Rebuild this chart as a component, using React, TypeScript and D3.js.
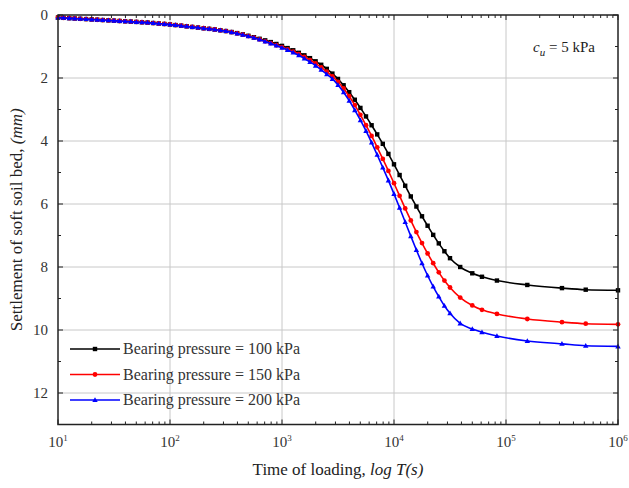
import React from "react";
import * as d3 from "d3";

const times = [10, 11.2, 12.6, 14.1, 15.8, 17.8, 20, 22.4, 25.1, 28.2, 31.6, 35.5, 39.8, 44.7, 50.1, 56.2, 63.1, 70.8, 79.4, 89.1,
  100, 112, 126, 141, 158, 178, 200, 224, 251, 282, 316, 355, 398, 447, 501, 562, 631, 708, 794, 891,
  1000, 1122, 1259, 1413, 1585, 1778, 1995, 2239, 2512, 2818, 3162, 3548, 3981, 4467, 5012, 5623, 6310, 7079, 7943, 8913,
  10000, 11220, 12589, 14125, 15849, 17783, 19953, 22387, 25119, 28184, 31623,
  39000, 50000, 61000, 83000, 155000, 316000, 515000, 1000000];

const early = [0.08, 0.09, 0.10, 0.11, 0.12, 0.13, 0.14, 0.15, 0.16, 0.17, 0.18, 0.19, 0.20, 0.21, 0.22, 0.23, 0.24, 0.255, 0.27, 0.285,
  0.30, 0.32, 0.34, 0.36, 0.38, 0.40, 0.42, 0.44, 0.46, 0.485, 0.51];

const black100 = [...early,
  0.54, 0.575, 0.615, 0.66, 0.705, 0.755, 0.805, 0.86, 0.92, 0.98,
  1.05, 1.12, 1.20, 1.28, 1.37, 1.47, 1.58, 1.71, 1.86, 2.03,
  2.23, 2.45, 2.69, 2.95, 3.22, 3.50, 3.79, 4.09, 4.41, 4.74,
  5.08, 5.42, 5.76, 6.08, 6.39, 6.69, 6.98, 7.25, 7.50, 7.72,
  8.00, 8.20, 8.31, 8.43, 8.57, 8.67, 8.72, 8.74];

const red150 = [...early,
  0.545, 0.585, 0.625, 0.67, 0.72, 0.775, 0.835, 0.895, 0.96, 1.02,
  1.09, 1.16, 1.24, 1.33, 1.43, 1.54, 1.66, 1.80, 1.95, 2.12,
  2.33, 2.58, 2.86, 3.17, 3.50, 3.84, 4.20, 4.57, 4.95, 5.34,
  5.74, 6.14, 6.52, 6.89, 7.24, 7.57, 7.88, 8.17, 8.43, 8.65,
  8.97, 9.22, 9.36, 9.49, 9.65, 9.75, 9.80, 9.82];

const blue200 = [...early,
  0.55, 0.59, 0.63, 0.675, 0.725, 0.78, 0.84, 0.905, 0.97, 1.04,
  1.11, 1.19, 1.28, 1.38, 1.49, 1.61, 1.74, 1.88, 2.03, 2.22,
  2.45, 2.72, 3.02, 3.34, 3.68, 4.05, 4.44, 4.84, 5.25, 5.68,
  6.12, 6.57, 7.02, 7.46, 7.88, 8.27, 8.62, 8.94, 9.23, 9.47,
  9.79, 9.97, 10.07, 10.19, 10.35, 10.44, 10.50, 10.52];

const seriesNames = ["Bearing pressure = 100 kPa", "Bearing pressure = 150 kPa", "Bearing pressure = 200 kPa"];
const seriesValues = [black100, red150, blue200];
const seriesColors = ["#000000", "#ff0000", "#0000ff"];
const seriesMarkers = ["square", "circle", "triangle"];

const xTickExps = [1, 2, 3, 4, 5, 6];
const yTicks = [0, 2, 4, 6, 8, 10, 12];
const yMinor = [1, 3, 5, 7, 9, 11];

const W = 629, H = 488;
const L = 58, R = 618, T = 15, B = 424.5;
const FONT = "'Liberation Serif', 'Times New Roman', serif";

function Marker({ type, x, y, color }: { type: string; x: number; y: number; color: string }) {
  if (type === "square") return <rect x={x - 2.2} y={y - 2.2} width={4.4} height={4.4} fill={color} />;
  if (type === "circle") return <circle cx={x} cy={y} r={2.4} fill={color} />;
  return <path d={`M${x},${y - 2.8}L${x + 2.7},${y + 2}L${x - 2.7},${y + 2}Z`} fill={color} />;
}

export default function App() {
  const x = d3.scaleLog().domain([10, 1e6]).range([L, R]);
  const y = d3.scaleLinear().domain([0, 13]).range([T, B]);
  const line = d3.line<number>().x((_, i) => x(times[i])).y((v) => y(v)).curve(d3.curveMonotoneX);

  const minorX: number[] = [];
  for (let e = 1; e < 6; e++) for (let m = 2; m <= 9; m++) minorX.push(m * Math.pow(10, e));

  return (
    <svg width={W} height={H} style={{ position: "absolute", left: 0, top: 0, background: "#fff" }} fontFamily={FONT}>
      {xTickExps.slice(1, -1).map((e) => (
        <line key={"gx" + e} x1={x(Math.pow(10, e))} x2={x(Math.pow(10, e))} y1={T} y2={B} stroke="#c8c8c8" strokeWidth={1} />
      ))}
      {yTicks.slice(1).map((v) => (
        <line key={"gy" + v} x1={L} x2={R} y1={y(v)} y2={y(v)} stroke="#c8c8c8" strokeWidth={1} />
      ))}
      {seriesValues.map((vals, si) => (
        <g key={"s" + si}>
          <path d={line(vals) || ""} fill="none" stroke={seriesColors[si]} strokeWidth={1.6} />
          {vals.map((v, i) => (
            <Marker key={i} type={seriesMarkers[si]} x={x(times[i])} y={y(v)} color={seriesColors[si]} />
          ))}
        </g>
      ))}
      <rect x={L} y={T} width={R - L} height={B - T} fill="none" stroke="#222" strokeWidth={1.5} />
      {xTickExps.map((e) => {
        const px = x(Math.pow(10, e));
        return (
          <g key={"xt" + e}>
            <line x1={px} x2={px} y1={B} y2={B - 5} stroke="#222" />
            <line x1={px} x2={px} y1={T} y2={T + 5} stroke="#222" />
            <text x={px} y={B + 22} fontSize={15} textAnchor="middle" fill="#333">
              10<tspan dy={-6} fontSize={9}>{e}</tspan>
            </text>
          </g>
        );
      })}
      {minorX.map((v) => (
        <g key={"mx" + v}>
          <line x1={x(v)} x2={x(v)} y1={B} y2={B - 3} stroke="#222" />
          <line x1={x(v)} x2={x(v)} y1={T} y2={T + 3} stroke="#222" />
        </g>
      ))}
      {yTicks.map((v) => (
        <g key={"yt" + v}>
          <line x1={L} x2={L + 5} y1={y(v)} y2={y(v)} stroke="#222" />
          <line x1={R} x2={R - 5} y1={y(v)} y2={y(v)} stroke="#222" />
          <text x={L - 10} y={y(v) + 5} fontSize={15} textAnchor="end" fill="#333">{v}</text>
        </g>
      ))}
      {yMinor.map((v) => (
        <g key={"ym" + v}>
          <line x1={L} x2={L + 3} y1={y(v)} y2={y(v)} stroke="#222" />
          <line x1={R} x2={R - 3} y1={y(v)} y2={y(v)} stroke="#222" />
        </g>
      ))}
      <text x={(L + R) / 2} y={475} fontSize={17} textAnchor="middle" fill="#222">
        Time of loading, <tspan fontStyle="italic">log T(s)</tspan>
      </text>
      <text transform={`translate(22,${(T + B) / 2}) rotate(-90)`} fontSize={17} textAnchor="middle" fill="#222">
        Settlement of soft soil bed, <tspan fontStyle="italic">(mm)</tspan>
      </text>
      <text x={533} y={52} fontSize={15} fill="#222">
        <tspan fontStyle="italic">c</tspan>
        <tspan fontStyle="italic" fontSize={11} dy={4}>u</tspan>
        <tspan dy={-4}> = 5 kPa</tspan>
      </text>
      {seriesNames.map((name, i) => {
        const ly = 349 + i * 25.5;
        return (
          <g key={"lg" + i}>
            <line x1={70} x2={120} y1={ly} y2={ly} stroke={seriesColors[i]} strokeWidth={1.6} />
            <Marker type={seriesMarkers[i]} x={95} y={ly} color={seriesColors[i]} />
            <text x={123} y={ly + 5} fontSize={16} fill="#333">{name}</text>
          </g>
        );
      })}
    </svg>
  );
}
